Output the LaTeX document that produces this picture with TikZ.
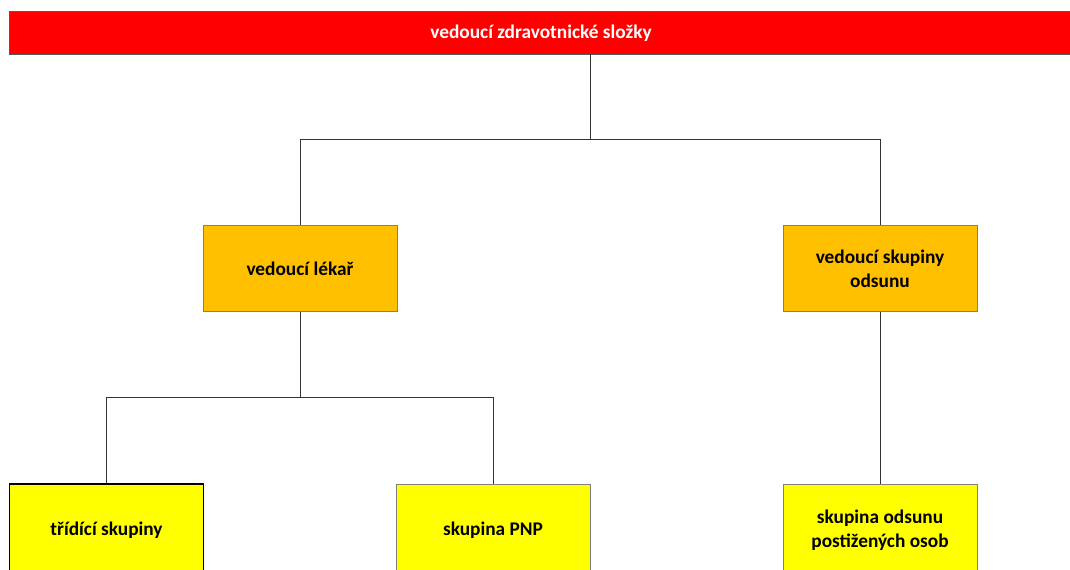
\documentclass[tikz,border=0pt]{standalone}
\usepackage{fontspec}
\setmainfont{Carlito}
\usepackage{tikz}
\usetikzlibrary{positioning,calc}

\definecolor{hlred}{HTML}{FF0000}
\definecolor{hlorange}{HTML}{FFC000}
\definecolor{hlyellow}{HTML}{FFFF00}
\definecolor{boxline}{HTML}{7F7F7F}

\begin{document}
\begin{tikzpicture}[x=0.75pt, y=-0.75pt,
  head/.style={draw=black!65, fill=hlred, text=white, minimum width=798pt, minimum height=32.25pt, inner sep=0pt, font=\bfseries\fontsize{14.5}{18}\selectfont},
  box/.style={draw=boxline, minimum width=145.5pt, minimum height=64.5pt, inner sep=0pt, align=center, font=\bfseries\fontsize{14.5}{18}\selectfont},
  chief/.style={box, fill=hlorange},
  team/.style={box, fill=hlyellow, minimum height=69pt},
  link/.style={draw=black!80, line width=0.6pt}
]
\useasboundingbox (0,0) rectangle (1070,569);

\node[head] (top) at (541,33) {vedoucí zdravotnické složky};

\node[chief] (lekar) at (300,268.5) {vedoucí lékař};
\node[chief] (odsun) at (880,268.5) {vedoucí skupiny\\odsunu};

\node[team, draw=black, line width=1.1pt] (tridici) at (106.5,530) {třídící skupiny};
\node[team] (pnp) at (493,530) {skupina PNP};
\node[team] (postizeni) at (880,530) {skupina odsunu\\postižených osob};

% junctions
\coordinate (topout) at (590,54);
\coordinate (split1) at (590,139);
\coordinate (split2) at (300,397);

\draw[link] (topout) -- (split1) -| (lekar.north);
\draw[link] (split1) -| (odsun.north);
\draw[link] (lekar.south) -- (split2) -| (tridici.north);
\draw[link] (split2) -| (pnp.north);
\draw[link] (odsun.south) -- (postizeni.north);

\end{tikzpicture}
\end{document}
